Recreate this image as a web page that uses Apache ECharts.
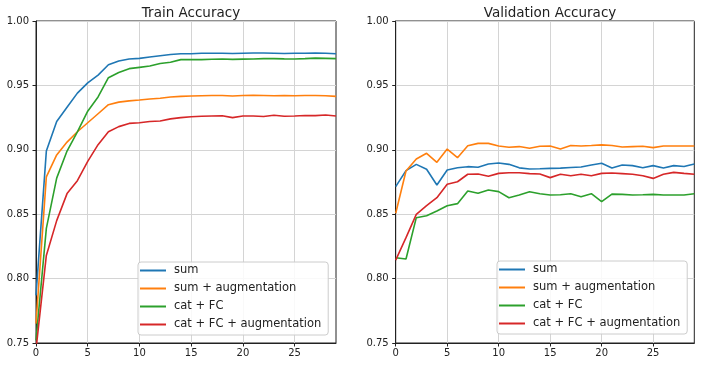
<!DOCTYPE html>
<html>
<head>
<meta charset="utf-8">
<script src="https://cdn.jsdelivr.net/npm/echarts@6/dist/echarts.min.js"></script>
<style>
    html, body { margin: 0; padding: 0; background: #fff; }
    #chart { width: 705px; height: 366px; }
</style>
</head>
<body>
<div id="chart"></div>
<script>
const epochs = [...Array(30).keys()];
const seriesNames = ["sum", "sum + augmentation", "cat + FC", "cat + FC + augmentation"];
const xTicks = [0, 5, 10, 15, 20, 25];

// train accuracy per epoch
const trainSum = [0.787, 0.899, 0.922, 0.933, 0.944, 0.952, 0.958, 0.966, 0.969, 0.9705, 0.971, 0.972, 0.973, 0.974, 0.9746, 0.9746, 0.975, 0.975, 0.975, 0.9748, 0.975, 0.9752, 0.9752, 0.975, 0.9748, 0.975, 0.975, 0.9752, 0.975, 0.9746];
const trainSumAug = [0.765, 0.879, 0.896, 0.906, 0.914, 0.921, 0.928, 0.935, 0.937, 0.938, 0.9387, 0.9395, 0.94, 0.941, 0.9415, 0.9418, 0.942, 0.9422, 0.9422, 0.9418, 0.9422, 0.9424, 0.9422, 0.942, 0.9422, 0.942, 0.9422, 0.9422, 0.942, 0.9415];
const trainCat = [0.752, 0.839, 0.878, 0.899, 0.914, 0.93, 0.941, 0.956, 0.96, 0.963, 0.964, 0.965, 0.967, 0.968, 0.97, 0.97, 0.97, 0.9703, 0.9705, 0.9702, 0.9704, 0.9705, 0.9708, 0.9708, 0.9706, 0.9705, 0.9708, 0.9712, 0.971, 0.9708];
const trainCatAug = [0.745, 0.818, 0.845, 0.866, 0.876, 0.891, 0.904, 0.914, 0.918, 0.9205, 0.921, 0.922, 0.9224, 0.924, 0.925, 0.9257, 0.926, 0.9262, 0.9264, 0.925, 0.9262, 0.9262, 0.9258, 0.9268, 0.926, 0.9262, 0.9266, 0.9265, 0.927, 0.9262];

// validation accuracy per epoch
const valSum = [0.8714, 0.8838, 0.8887, 0.8849, 0.8727, 0.8843, 0.8861, 0.8869, 0.8864, 0.889, 0.8898, 0.8887, 0.886, 0.8851, 0.8853, 0.8856, 0.8858, 0.8863, 0.8866, 0.8882, 0.8895, 0.8858, 0.8882, 0.8877, 0.8861, 0.8877, 0.8858, 0.8877, 0.887, 0.889];
const valSumAug = [0.8507, 0.8835, 0.8929, 0.8973, 0.8903, 0.9006, 0.8939, 0.9032, 0.905, 0.905, 0.903, 0.902, 0.9025, 0.9012, 0.9028, 0.903, 0.9007, 0.9033, 0.903, 0.9033, 0.9038, 0.9033, 0.9022, 0.9025, 0.9027, 0.9017, 0.903, 0.903, 0.903, 0.903];
const valCat = [0.8162, 0.8152, 0.8473, 0.8488, 0.8525, 0.8566, 0.8582, 0.868, 0.8662, 0.8688, 0.8675, 0.8628, 0.8649, 0.8675, 0.8659, 0.8649, 0.8651, 0.8659, 0.8636, 0.8659, 0.8597, 0.8656, 0.8654, 0.8649, 0.8651, 0.8654, 0.8649, 0.8649, 0.8649, 0.8659];
const valCatAug = [0.8144, 0.8318, 0.8499, 0.8566, 0.8628, 0.8732, 0.8752, 0.881, 0.8812, 0.8794, 0.8817, 0.8822, 0.8822, 0.8815, 0.8812, 0.8784, 0.881, 0.8799, 0.881, 0.8799, 0.8817, 0.882, 0.8815, 0.881, 0.8799, 0.8778, 0.881, 0.8825, 0.8817, 0.881];

const colors = ["#1f77b4", "#ff7f0e", "#2ca02c", "#d62728"];
const font = "DejaVu Sans";

const chart = echarts.init(document.getElementById("chart"), null, { renderer: "canvas" });

const grids = [
    { left: 36, top: 21, width: 300, height: 322 },
    { left: 395.7, top: 21, width: 298.6, height: 322 },
];

const makeXAxis = (gridIndex) => ({
    type: "value",
    gridIndex,
    min: 0,
    max: 29,
    interval: 5,
    axisLine: { show: true, onZero: false, lineStyle: { color: "#222", width: 1 } },
    axisTick: { show: true, inside: false, length: 3.5, customValues: xTicks, lineStyle: { color: "#222" } },
    axisLabel: { customValues: xTicks, color: "#222", fontFamily: font, fontSize: 10, margin: 5 },
    splitLine: { show: true, lineStyle: { color: "#d4d4d4", width: 1 } },
});

const makeYAxis = (gridIndex) => ({
    type: "value",
    gridIndex,
    min: 0.75,
    max: 1.0,
    interval: 0.05,
    axisLine: { show: true, lineStyle: { color: "#222", width: 1 } },
    axisTick: { show: true, inside: false, length: 3.5, lineStyle: { color: "#222" } },
    axisLabel: {
        color: "#222",
        fontFamily: font,
        fontSize: 10,
        margin: 7,
        formatter: (v) => v.toFixed(2),
    },
    splitLine: { show: true, lineStyle: { color: "#d4d4d4", width: 1 } },
});

const makeSeries = (gridIndex, values) =>
    values.map((vals, i) => ({
        name: seriesNames[i],
        type: "line",
        xAxisIndex: gridIndex,
        yAxisIndex: gridIndex,
        data: epochs.map((e, k) => [e, vals[k]]),
        showSymbol: false,
        clip: true,
        color: colors[i],
        lineStyle: { width: 1.6, color: colors[i] },
        emphasis: { disabled: true },
    }));

const makeLegend = (left, top) => ({
    orient: "vertical",
    left,
    top,
    data: seriesNames,
    icon: "rect",
    itemWidth: 26,
    itemHeight: 2,
    itemGap: 5,
    padding: [2, 7, 4, 2],
    backgroundColor: "rgba(255,255,255,0.85)",
    borderColor: "#cccccc",
    borderWidth: 1,
    borderRadius: 3,
    selectedMode: false,
    textStyle: { fontFamily: font, fontSize: 11.5, color: "#222", lineHeight: 13, padding: [0, 0, 0, 3] },
});

const option = {
    animation: false,
    backgroundColor: "#fff",
    title: [
        { text: "Train Accuracy", left: 186, top: 1, textAlign: "center", textStyle: { fontFamily: font, fontSize: 13.5, fontWeight: "normal", color: "#222" } },
        { text: "Validation Accuracy", left: 545, top: 1, textAlign: "center", textStyle: { fontFamily: font, fontSize: 13.5, fontWeight: "normal", color: "#222" } },
    ],
    grid: grids.map((g) => ({ ...g, show: true, borderColor: "#222", borderWidth: 1, backgroundColor: "transparent" })),
    xAxis: [makeXAxis(0), makeXAxis(1)],
    yAxis: [makeYAxis(0), makeYAxis(1)],
    legend: [makeLegend(138, 262), makeLegend(497, 261)],
    series: [
        ...makeSeries(0, [trainSum, trainSumAug, trainCat, trainCatAug]),
        ...makeSeries(1, [valSum, valSumAug, valCat, valCatAug]),
    ],
};

chart.setOption(option);
</script>
</body>
</html>
